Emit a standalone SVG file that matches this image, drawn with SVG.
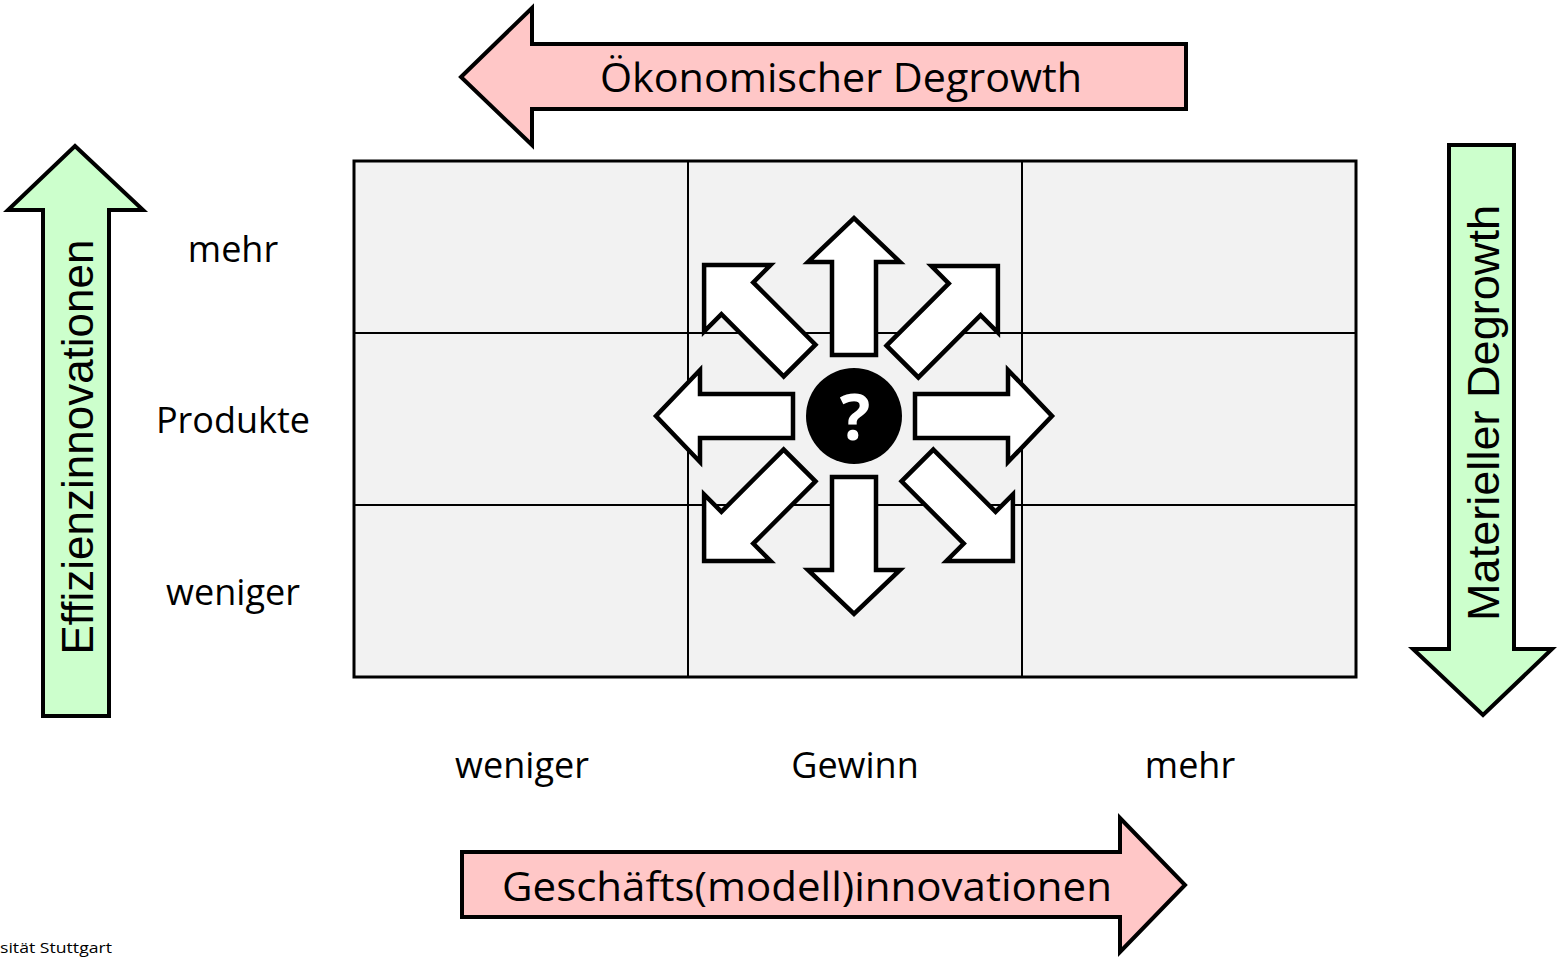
<svg xmlns="http://www.w3.org/2000/svg" width="1557" height="958" viewBox="0 0 1557 958">
  <defs>
    <style>
      .bigarrow { stroke: #000; stroke-width: 4; stroke-linejoin: miter; }
      .pink { fill: #ffc7c7; }
      .green { fill: #ccffcc; }
      .cell { fill: #f2f2f2; stroke: none; }
      .gridline { stroke: #000; stroke-width: 2; fill: none; }
      .small { fill: #fff; stroke: #000; stroke-width: 4.5; stroke-linejoin: miter; }
      .lbl { font-family: "Open Sans", "Liberation Sans", sans-serif; font-size: 36px; fill: #000; text-anchor: middle; }
      .arrowtxt { font-family: "Open Sans", "Liberation Sans", sans-serif; font-size: 41px; fill: #000; text-anchor: middle; }
      .vtxt { font-family: "Liberation Sans", Arial, sans-serif; font-size: 44px; fill: #000; text-anchor: middle; }
    </style>
    <path id="orth" d="M61,-22 H154 V-46 L198,0 L154,46 V22 H61 Z"/>
    <path id="diag" d="M77,-22.5 H165 V-47 L212,0 L165,47 V22.5 H77 Z"/>
  </defs>
  <rect width="1557" height="958" fill="#fff"/>

  <g id="matrix">
    <rect class="cell" x="354" y="161" width="1002" height="516"/>
    <line class="gridline" x1="688" y1="161" x2="688" y2="677"/>
    <line class="gridline" x1="1022" y1="161" x2="1022" y2="677"/>
    <line class="gridline" x1="354" y1="333" x2="1356" y2="333"/>
    <line class="gridline" x1="354" y1="505" x2="1356" y2="505"/>
    <rect x="354" y="161" width="1002" height="516" fill="none" stroke="#000" stroke-width="3"/>
  </g>

  <g id="arrow-oekonomisch">
    <path class="bigarrow pink" d="M461,77 L532,8 L532,44 L1186,44 L1186,109 L532,109 L532,145 Z"/>
    <text class="arrowtxt" x="841" y="92" textLength="482" lengthAdjust="spacingAndGlyphs">Ökonomischer Degrowth</text>
  </g>

  <g id="arrow-geschaeft">
    <path class="bigarrow pink" d="M462,852 L1120,852 L1120,818 L1185,885 L1120,952 L1120,917 L462,917 Z"/>
    <text class="arrowtxt" x="807" y="901" textLength="610" lengthAdjust="spacingAndGlyphs">Geschäfts(modell)innovationen</text>
  </g>

  <g id="arrow-effizienz">
    <path class="bigarrow green" d="M75,146 L143,210 L109,210 L109,716 L43,716 L43,210 L8,210 Z"/>
    <text class="vtxt" transform="translate(93,447) rotate(-90)" x="0" y="0" textLength="415" lengthAdjust="spacingAndGlyphs">Effizienzinnovationen</text>
  </g>

  <g id="arrow-materiell">
    <path class="bigarrow green" d="M1449,145 L1514,145 L1514,649 L1552,649 L1483,715 L1413,649 L1449,649 Z"/>
    <text class="vtxt" transform="translate(1499,413) rotate(-90)" x="0" y="0" textLength="416" lengthAdjust="spacingAndGlyphs">Materieller Degrowth</text>
  </g>

  <g id="row-labels">
    <text class="lbl" x="233" y="262">mehr</text>
    <text class="lbl" x="233" y="433">Produkte</text>
    <text class="lbl" x="233" y="605">weniger</text>
  </g>

  <g id="col-labels">
    <text class="lbl" x="522" y="778">weniger</text>
    <text class="lbl" x="855" y="778">Gewinn</text>
    <text class="lbl" x="1190" y="778">mehr</text>
  </g>

  <g id="center-arrows">
    <use href="#orth" class="small" transform="translate(854,416) rotate(-90)"/>
    <use href="#orth" class="small" transform="translate(854,416) rotate(90)"/>
    <use href="#orth" class="small" transform="translate(854,416) rotate(180)"/>
    <use href="#orth" class="small" transform="translate(854,416)"/>
    <use href="#diag" class="small" transform="translate(854,415) rotate(-135)"/>
    <use href="#diag" class="small" transform="translate(848,416) rotate(-45)"/>
    <use href="#diag" class="small" transform="translate(863,411) rotate(45)"/>
    <use href="#diag" class="small" transform="translate(854,411) rotate(135)"/>
  </g>

  <g id="question">
    <circle cx="854" cy="416" r="48" fill="#000"/>
    <text x="855" y="440" font-family="Open Sans, Liberation Sans, sans-serif" font-weight="bold" font-size="64" fill="#fff" text-anchor="middle">?</text>
  </g>

  <g id="footer">
    <text x="0" y="953" font-family="Open Sans, Liberation Sans, sans-serif" font-size="15" fill="#000" textLength="112" lengthAdjust="spacingAndGlyphs">sität Stuttgart</text>
  </g>
</svg>
